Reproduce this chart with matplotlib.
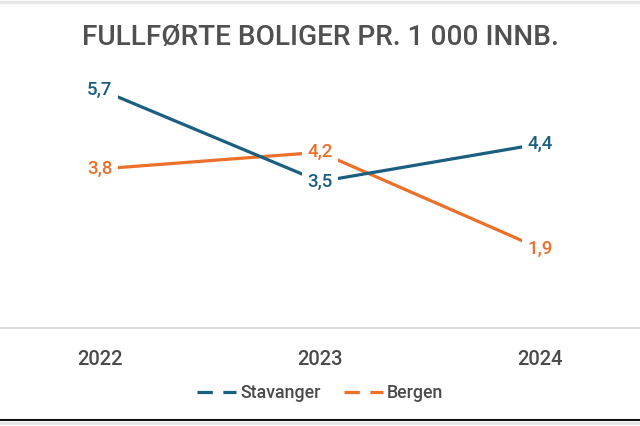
import matplotlib
matplotlib.use("Agg")
import matplotlib.pyplot as plt
from matplotlib.lines import Line2D

years = ["2022", "2023", "2024"]
stavanger = [5.7, 3.5, 4.4]
bergen = [3.8, 4.2, 1.9]
labels_stavanger = ["5,7", "3,5", "4,4"]
labels_bergen = ["3,8", "4,2", "1,9"]
series_names = ["Stavanger", "Bergen"]
title = "FULLFØRTE BOLIGER PR. 1 000 INNB."

BLUE = "#1a5e80"
ORANGE = "#ec6f2a"
TEXT = "#4a4a4a"
FONT = ["Roboto", "DejaVu Sans"]

fig = plt.figure(figsize=(6.4, 4.26), dpi=100)
W, H = 640, 426
ax = fig.add_axes([0, 1 - 328 / H, 1, (328 - 56) / H])
xs = list(range(len(years)))
ax.set_xlim(-100 / 220, 2 + 100 / 220)
ax.set_ylim(0, 6.5)

for vals, labs, col, z in [(stavanger, labels_stavanger, BLUE, 3), (bergen, labels_bergen, ORANGE, 2)]:
    ax.plot(xs, vals, color=col, lw=2.3, solid_capstyle="butt", zorder=z)
    for x, v, t in zip(xs, vals, labs):
        ax.text(x, v, t, ha="center", va="center", color=col, fontsize=13.5,
                family=FONT, fontweight="medium", zorder=5,
                bbox=dict(boxstyle="square,pad=0.3", fc="white", ec="none"))

for s in ["top", "right", "left"]:
    ax.spines[s].set_visible(False)
ax.spines["bottom"].set_color("#dcdcdc")
ax.spines["bottom"].set_linewidth(1.5)
ax.set_yticks([])
ax.set_xticks(xs)
ax.set_xticklabels(years, family=FONT, fontsize=14.5, color=TEXT, fontweight="medium")
ax.tick_params(axis="x", length=0, pad=16)

fig.text(0.5, 1 - 37 / H, title, ha="center", va="center", family=FONT,
         fontsize=20.2, color="#505050", fontweight="medium")

handles = [Line2D([], [], color=BLUE, lw=2.3, linestyle=(0, (4.8, 3.3))),
           Line2D([], [], color=ORANGE, lw=2.3, linestyle=(0, (4.8, 3.3)))]
leg = fig.legend(handles, series_names, loc="center", bbox_to_anchor=(0.5, 1 - 393 / H),
                 ncol=2, frameon=False, handlelength=2.2, handletextpad=0.25,
                 columnspacing=1.3, prop=dict(family=FONT, size=12.8, weight="medium"))
for t in leg.get_texts():
    t.set_color(TEXT)

fig.add_artist(Line2D([0, 1], [1 - 1.5 / H, 1 - 1.5 / H], color="#e6e6e6", lw=2.5, transform=fig.transFigure))
fig.add_artist(Line2D([0, 1], [1 - 420 / H, 1 - 420 / H], color="#111111", lw=1.5, transform=fig.transFigure))
fig.add_artist(Line2D([0, 1], [1 - 423 / H, 1 - 423 / H], color="#e6e6e6", lw=2, transform=fig.transFigure))

fig.savefig("out.png", dpi=100, facecolor="white")
